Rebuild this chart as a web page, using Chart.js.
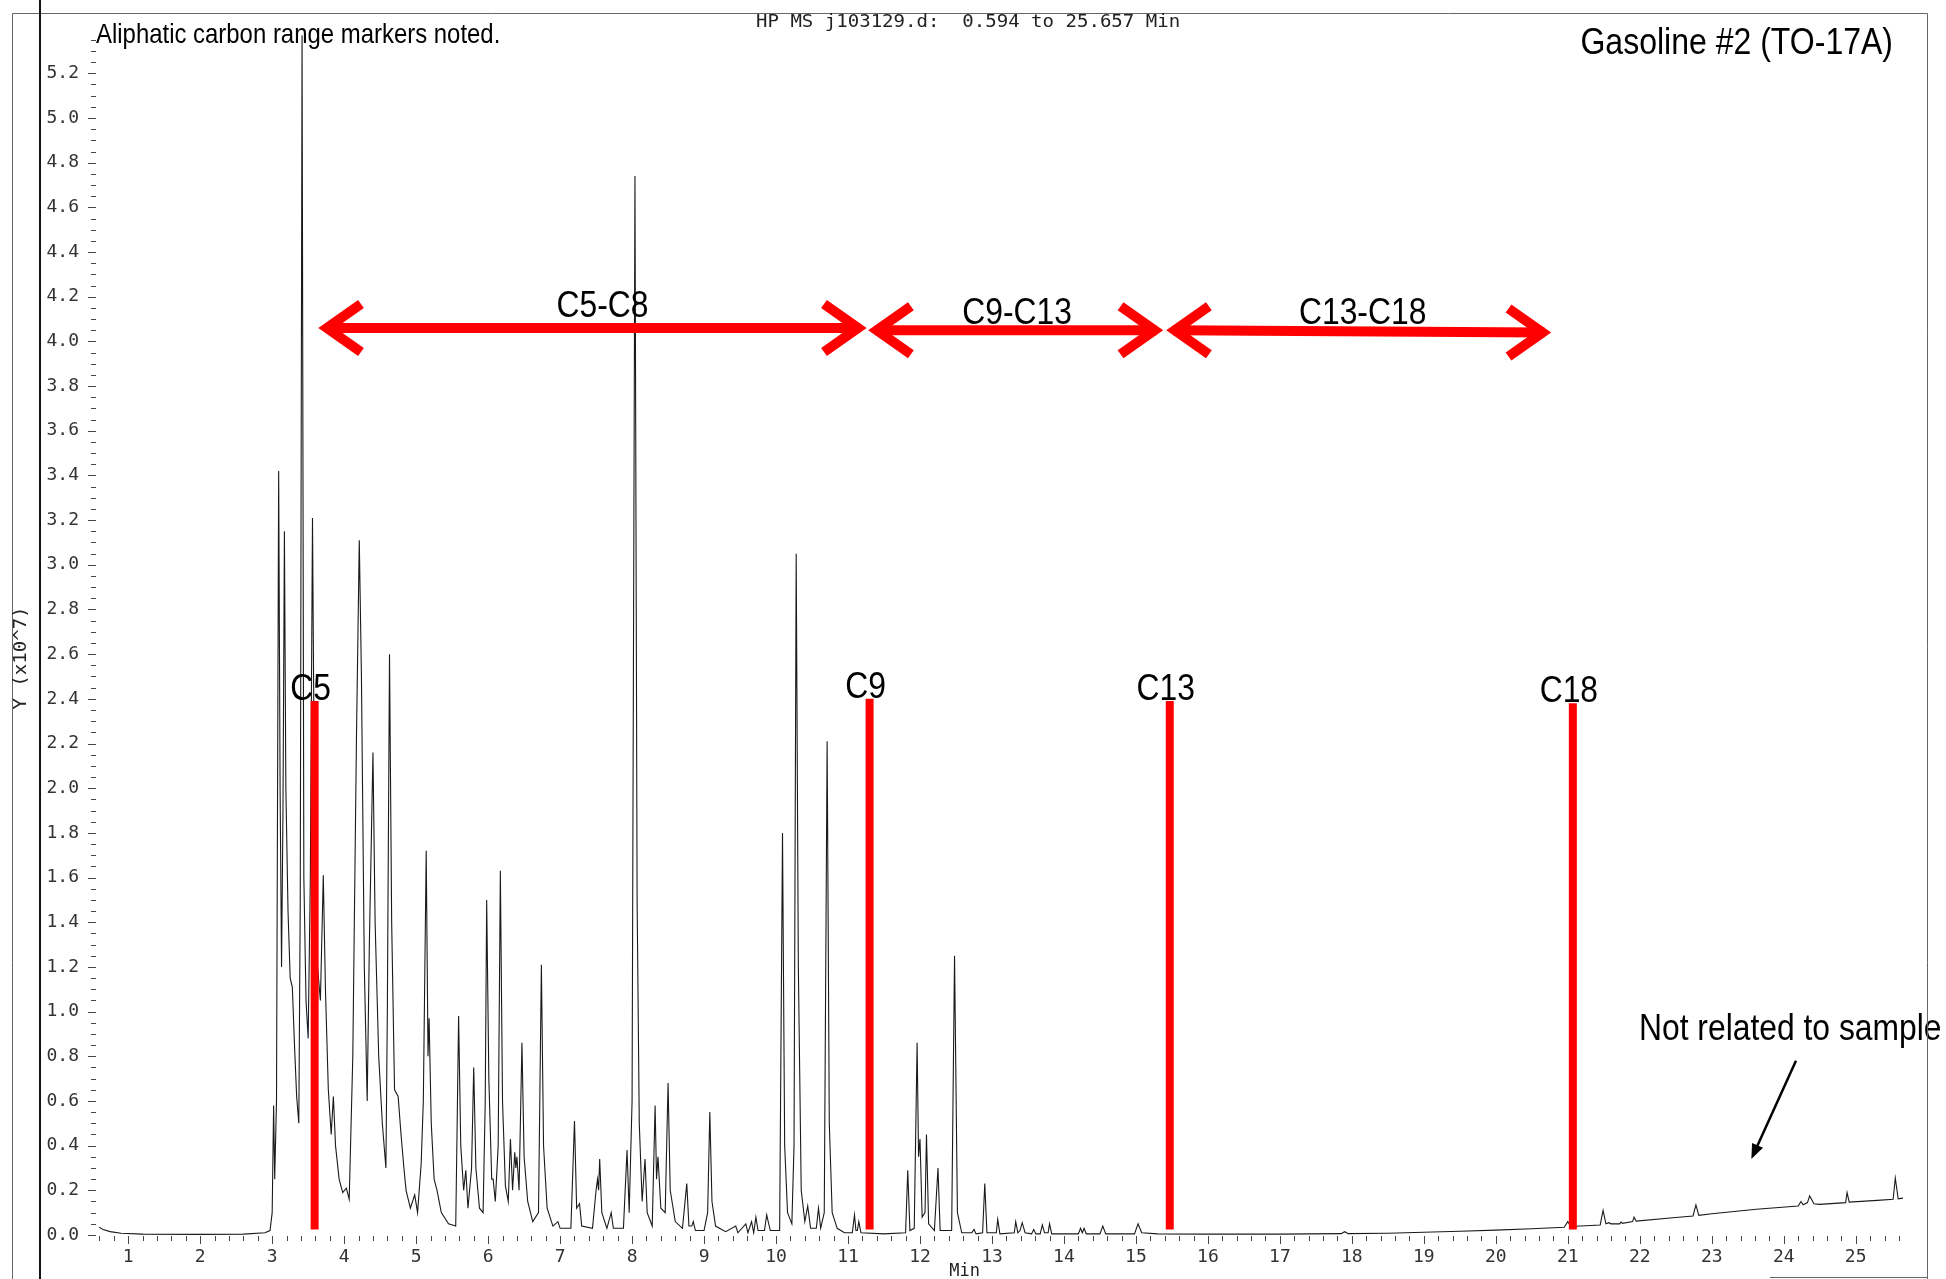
<!DOCTYPE html>
<html>
<head>
<meta charset="utf-8">
<title>Gasoline #2 (TO-17A)</title>
<script src="https://cdn.jsdelivr.net/npm/chart.js@4.4.1/dist/chart.umd.min.js"></script>
<style>
  html, body { margin: 0; padding: 0; background: #fff; }
  #chart { display: block; }
</style>
</head>
<body>
<canvas id="chart" width="1946" height="1279"></canvas>
<script>
// chromatogram trace (min, x10^7)
const retentionTime = [
  0.594, 0.65, 0.75, 0.90, 1.20, 2.00, 2.60, 2.90, 2.97, 3.00, 3.02, 3.035, 3.06, 3.09, 3.11, 3.13,
  3.15, 3.17, 3.19, 3.22, 3.25, 3.28, 3.31, 3.34, 3.37, 3.39, 3.415, 3.44, 3.47, 3.50, 3.53, 3.56,
  3.59, 3.63, 3.67, 3.71, 3.74, 3.78, 3.82, 3.85, 3.88, 3.93, 3.98, 4.03, 4.07, 4.12, 4.17, 4.21,
  4.24, 4.28, 4.32, 4.35, 4.40, 4.43, 4.48, 4.53, 4.58, 4.60, 4.63, 4.66, 4.70, 4.75, 4.79, 4.83,
  4.86, 4.92, 4.98, 5.02, 5.07, 5.10, 5.14, 5.165, 5.18, 5.21, 5.25, 5.29, 5.35, 5.45, 5.55, 5.57,
  5.59, 5.62, 5.66, 5.69, 5.72, 5.77, 5.80, 5.83, 5.88, 5.93, 5.96, 5.98, 6.01, 6.05, 6.07, 6.10,
  6.14, 6.17, 6.20, 6.24, 6.28, 6.31, 6.34, 6.37, 6.385, 6.40, 6.43, 6.47, 6.50, 6.55, 6.62, 6.70,
  6.74, 6.77, 6.82, 6.90, 6.97, 7.00, 7.15, 7.20, 7.23, 7.27, 7.30, 7.45, 7.50, 7.52, 7.535, 7.55,
  7.58, 7.65, 7.71, 7.74, 7.88, 7.93, 7.96, 8.00, 8.04, 8.07, 8.10, 8.14, 8.18, 8.21, 8.28, 8.32,
  8.34, 8.36, 8.40, 8.46, 8.50, 8.53, 8.60, 8.70, 8.76, 8.79, 8.83, 8.85, 8.88, 9.00, 9.05, 9.08,
  9.11, 9.16, 9.30, 9.44, 9.47, 9.58, 9.61, 9.66, 9.69, 9.72, 9.75, 9.84, 9.87, 9.92, 10.05, 10.09,
  10.12, 10.16, 10.22, 10.25, 10.28, 10.31, 10.35, 10.40, 10.44, 10.48, 10.56, 10.59, 10.62, 10.67, 10.71, 10.74,
  10.78, 10.85, 10.95, 11.06, 11.09, 11.11, 11.13, 11.15, 11.18, 11.50, 11.80, 11.83, 11.86, 11.92, 11.96, 11.98,
  12.00, 12.03, 12.07, 12.09, 12.12, 12.20, 12.25, 12.28, 12.44, 12.48, 12.52, 12.58, 12.72, 12.75, 12.78, 12.87,
  12.90, 12.93, 13.06, 13.08, 13.11, 13.31, 13.33, 13.36, 13.39, 13.42, 13.46, 13.55, 13.58, 13.61, 13.67, 13.70,
  13.73, 13.78, 13.80, 13.83, 14.20, 14.23, 14.255, 14.28, 14.31, 14.50, 14.54, 14.58, 14.98, 15.03, 15.08, 15.30,
  16.00, 17.00, 17.85, 17.90, 17.95, 18.50, 19.00, 19.50, 20.00, 20.50, 20.95, 21.00, 21.04, 21.45, 21.49, 21.53,
  21.57, 21.60, 21.72, 21.74, 21.76, 21.90, 21.92, 21.95, 22.50, 22.74, 22.78, 22.82, 23.00, 23.62, 24.20, 24.24,
  24.27, 24.33, 24.36, 24.42, 24.50, 24.86, 24.88, 24.91, 25.30, 25.52, 25.55, 25.59, 25.657
];
const abundance = [
  0.035, 0.025, 0.015, 0.008, 0.004, 0.003, 0.004, 0.010, 0.020, 0.100, 0.580, 0.250, 0.600, 3.420, 2.000, 1.200,
  1.900, 3.150, 2.000, 1.450, 1.150, 1.110, 0.850, 0.620, 0.500, 1.500, 5.370, 1.600, 1.050, 0.880, 1.600, 3.210,
  1.800, 1.200, 1.050, 1.610, 1.100, 0.650, 0.450, 0.620, 0.400, 0.250, 0.190, 0.210, 0.160, 0.800, 2.200, 3.110,
  2.500, 1.200, 0.600, 1.300, 2.160, 1.400, 0.800, 0.500, 0.300, 1.000, 2.600, 1.400, 0.650, 0.620, 0.450, 0.300,
  0.200, 0.120, 0.180, 0.100, 0.320, 0.600, 1.720, 0.800, 0.970, 0.500, 0.250, 0.200, 0.100, 0.050, 0.040, 0.500,
  0.980, 0.400, 0.200, 0.290, 0.120, 0.300, 0.750, 0.300, 0.120, 0.100, 0.600, 1.500, 0.700, 0.250, 0.250, 0.150,
  0.400, 1.630, 0.600, 0.220, 0.150, 0.430, 0.200, 0.370, 0.300, 0.350, 0.200, 0.860, 0.350, 0.150, 0.060, 0.100,
  1.210, 0.400, 0.120, 0.040, 0.060, 0.030, 0.030, 0.510, 0.120, 0.140, 0.040, 0.030, 0.200, 0.250, 0.200, 0.340,
  0.100, 0.030, 0.100, 0.030, 0.030, 0.380, 0.100, 0.600, 4.740, 1.500, 0.500, 0.150, 0.340, 0.100, 0.040, 0.580,
  0.250, 0.350, 0.120, 0.100, 0.680, 0.200, 0.060, 0.030, 0.230, 0.040, 0.040, 0.060, 0.020, 0.020, 0.100, 0.550,
  0.150, 0.040, 0.015, 0.040, 0.010, 0.050, 0.010, 0.060, 0.010, 0.080, 0.020, 0.020, 0.090, 0.020, 0.020, 1.800,
  0.400, 0.100, 0.050, 0.400, 3.050, 1.200, 0.200, 0.060, 0.130, 0.030, 0.030, 0.120, 0.030, 0.100, 2.210, 0.500,
  0.100, 0.030, 0.010, 0.010, 0.090, 0.020, 0.020, 0.060, 0.010, 0.005, 0.010, 0.290, 0.020, 0.030, 0.860, 0.350,
  0.430, 0.080, 0.100, 0.450, 0.050, 0.020, 0.300, 0.020, 0.020, 1.250, 0.100, 0.010, 0.010, 0.025, 0.005, 0.010,
  0.230, 0.010, 0.010, 0.070, 0.005, 0.010, 0.060, 0.010, 0.020, 0.055, 0.010, 0.005, 0.025, 0.005, 0.005, 0.045,
  0.010, 0.010, 0.050, 0.005, 0.005, 0.030, 0.010, 0.030, 0.005, 0.005, 0.040, 0.005, 0.005, 0.050, 0.010, 0.005,
  0.004, 0.004, 0.006, 0.015, 0.006, 0.008, 0.012, 0.017, 0.022, 0.028, 0.035, 0.060, 0.038, 0.045, 0.110, 0.050,
  0.055, 0.050, 0.050, 0.058, 0.052, 0.060, 0.080, 0.062, 0.078, 0.085, 0.135, 0.088, 0.095, 0.115, 0.130, 0.150,
  0.135, 0.145, 0.175, 0.140, 0.137, 0.145, 0.190, 0.147, 0.155, 0.160, 0.255, 0.162, 0.165
];

// carbon number markers (red bars)
const markerLabels = ['C5', 'C9', 'C13', 'C18'];
const markerTimes = [3.59, 11.30, 15.47, 21.07];
const markerTops = [2.39, 2.40, 2.39, 2.38];
const markerBottom = 0.025;

// carbon range arrows
const rangeLabels = ['C5-C8', 'C9-C13', 'C13-C18'];
const rangeStart = [3.65, 11.29, 15.43];
const rangeEnd = [11.25, 15.37, 20.76];
const rangeLevelStart = [4.06, 4.05, 4.05];
const rangeLevelEnd = [4.06, 4.05, 4.04];
const rangeLabelTime = [7.59, 13.35, 18.15];
const rangeLabelLevel = [4.155, 4.125, 4.125];

// "Not related to sample" pointer (min, x10^7)
const noteText = 'Not related to sample';
const noteArrowFrom = [24.17, 0.78];
const noteArrowTo = [23.55, 0.34];

// axis
const timeMin = 0.594;
const timeMax = 25.657;
const yTickLabels = ['0.0', '0.2', '0.4', '0.6', '0.8', '1.0', '1.2', '1.4', '1.6', '1.8', '2.0', '2.2', '2.4',
  '2.6', '2.8', '3.0', '3.2', '3.4', '3.6', '3.8', '4.0', '4.2', '4.4', '4.6', '4.8', '5.0', '5.2'];
const xTickLabels = ['1', '2', '3', '4', '5', '6', '7', '8', '9', '10', '11', '12', '13', '14', '15', '16', '17',
  '18', '19', '20', '21', '22', '23', '24', '25'];

const RED = '#ff0000';
const INK = '#1a1a1a';
const SANS = '"Liberation Sans", Arial, sans-serif';
const MONO = '"DejaVu Sans Mono", monospace';

function narrowText(ctx, text, x, y, size, align, squeeze) {
    ctx.save();
    ctx.font = size + 'px ' + SANS;
    ctx.fillStyle = '#000';
    ctx.textAlign = align;
    ctx.textBaseline = 'middle';
    ctx.translate(x, y);
    ctx.scale(squeeze, 1);
    ctx.fillText(text, 0, 0);
    ctx.restore();
}

function chevron(ctx, tipX, tipY, dir) {
    // open arrow head, dir = 1 points right, -1 points left
    const back = 34, half = 24, inset = 8;
    const tx = tipX - dir * inset;
    ctx.beginPath();
    ctx.moveTo(tx - dir * back, tipY - half);
    ctx.lineTo(tx, tipY);
    ctx.lineTo(tx - dir * back, tipY + half);
    ctx.stroke();
}

const decorations = {
    id: 'decorations',
    afterDatasetsDraw(chart) {
        const ctx = chart.ctx;
        const x = chart.scales.x;
        const y = chart.scales.y;
        const area = chart.chartArea;

        // tick marks, major and minor
        ctx.save();
        ctx.strokeStyle = '#444';
        ctx.lineWidth = 1;
        ctx.beginPath();
        for (let k = Math.ceil(timeMin / 0.2); k * 0.2 <= timeMax; k++) {
            const px = Math.round(x.getPixelForValue(k * 0.2)) + 0.5;
            const len = k % 5 === 0 ? 8 : 5;
            ctx.moveTo(px, area.bottom + 1);
            ctx.lineTo(px, area.bottom + 1 + len);
        }
        for (let k = 0; k <= 107; k++) {
            const py = Math.round(y.getPixelForValue(k * 0.05)) + 0.5;
            const major = k % 4 === 0;
            ctx.moveTo(area.left - (major ? 11 : 8), py);
            ctx.lineTo(area.left - 3, py);
        }
        ctx.stroke();
        ctx.restore();

        // red carbon markers
        ctx.save();
        ctx.strokeStyle = RED;
        ctx.lineWidth = 8;
        ctx.lineCap = 'butt';
        markerTimes.forEach((t, i) => {
            const px = x.getPixelForValue(t);
            ctx.beginPath();
            ctx.moveTo(px, y.getPixelForValue(markerTops[i]));
            ctx.lineTo(px, y.getPixelForValue(markerBottom));
            ctx.stroke();
            narrowText(ctx, markerLabels[i], px - 4, y.getPixelForValue(markerTops[i]) - 11, 36.6, 'center', 0.87);
        });

        // range arrows
        ctx.lineWidth = 10;
        ctx.lineJoin = 'miter';
        rangeStart.forEach((t0, i) => {
            const x0 = x.getPixelForValue(t0);
            const x1 = x.getPixelForValue(rangeEnd[i]);
            const y0 = y.getPixelForValue(rangeLevelStart[i]);
            const y1 = y.getPixelForValue(rangeLevelEnd[i]);
            ctx.beginPath();
            ctx.moveTo(x0 + 6, y0);
            ctx.lineTo(x1 - 6, y1);
            ctx.stroke();
            chevron(ctx, x0, y0, -1);
            chevron(ctx, x1, y1, 1);
            narrowText(ctx, rangeLabels[i], x.getPixelForValue(rangeLabelTime[i]),
                y.getPixelForValue(rangeLabelLevel[i]), 36.6, 'center', 0.87);
        });
        ctx.restore();

        // pointer to the rising baseline
        ctx.save();
        const ax0 = x.getPixelForValue(noteArrowFrom[0]), ay0 = y.getPixelForValue(noteArrowFrom[1]);
        const ax1 = x.getPixelForValue(noteArrowTo[0]), ay1 = y.getPixelForValue(noteArrowTo[1]);
        const ang = Math.atan2(ay1 - ay0, ax1 - ax0);
        ctx.strokeStyle = '#000';
        ctx.fillStyle = '#000';
        ctx.lineWidth = 2.5;
        ctx.beginPath();
        ctx.moveTo(ax0, ay0);
        ctx.lineTo(ax1 - 10 * Math.cos(ang), ay1 - 10 * Math.sin(ang));
        ctx.stroke();
        ctx.beginPath();
        ctx.moveTo(ax1, ay1);
        ctx.lineTo(ax1 - 15 * Math.cos(ang) + 6 * Math.sin(ang), ay1 - 15 * Math.sin(ang) - 6 * Math.cos(ang));
        ctx.lineTo(ax1 - 15 * Math.cos(ang) - 6 * Math.sin(ang), ay1 - 15 * Math.sin(ang) + 6 * Math.cos(ang));
        ctx.closePath();
        ctx.fill();
        ctx.restore();
        narrowText(ctx, noteText, 1639, 1030, 36.6, 'left', 0.87);
    },
    afterDraw(chart) {
        const ctx = chart.ctx;
        const x = chart.scales.x;

        // scanned page frame
        ctx.save();
        ctx.strokeStyle = '#666';
        ctx.lineWidth = 1;
        ctx.beginPath();
        ctx.moveTo(12.5, 1279);
        ctx.lineTo(12.5, 13.5);
        ctx.lineTo(1927.5, 13.5);
        ctx.lineTo(1927.5, 1279);
        ctx.moveTo(1770, 1277.5);
        ctx.lineTo(1927, 1277.5);
        ctx.stroke();
        ctx.strokeStyle = '#111';
        ctx.lineWidth = 2;
        ctx.beginPath();
        ctx.moveTo(40, 0);
        ctx.lineTo(40, 1279);
        ctx.stroke();
        ctx.restore();

        // plotter header and axis titles
        ctx.save();
        ctx.fillStyle = '#222';
        ctx.font = '17px ' + MONO;
        ctx.textBaseline = 'middle';
        ctx.translate(756, 23);
        ctx.scale(1.12, 1);
        ctx.fillText('HP MS j103129.d:  0.594 to 25.657 Min', 0, 0);
        ctx.restore();

        ctx.save();
        ctx.fillStyle = '#222';
        ctx.font = '17px ' + MONO;
        ctx.textAlign = 'center';
        ctx.textBaseline = 'middle';
        ctx.fillText('Min', x.getPixelForValue(12.62), 1272);
        ctx.translate(22, 658);
        ctx.rotate(-Math.PI / 2);
        ctx.scale(1.12, 1);
        ctx.fillText('Y (x10^7)', 0, 0);
        ctx.restore();

        narrowText(ctx, 'Aliphatic carbon range markers noted.', 96, 35, 27.5, 'left', 0.87);
        narrowText(ctx, 'Gasoline #2 (TO-17A)', 1893, 44, 36.8, 'right', 0.87);
    }
};

const tracePoints = retentionTime.map((t, i) => ({ x: t, y: abundance[i] }));

new Chart(document.getElementById('chart'), {
    type: 'line',
    data: {
        datasets: [{
            label: 'TIC',
            data: tracePoints,
            borderColor: INK,
            borderWidth: 1.1,
            pointRadius: 0,
            tension: 0,
            fill: false
        }]
    },
    options: {
        responsive: false,
        animation: false,
        devicePixelRatio: 1,
        layout: { padding: { left: 0, top: 13, right: 43, bottom: 0 } },
        plugins: {
            legend: { display: false },
            tooltip: { enabled: false }
        },
        scales: {
            x: {
                type: 'linear',
                min: timeMin,
                max: timeMax,
                grid: { display: false },
                border: { display: false },
                afterFit: scale => {
                    scale.height = 44;
                    scale.paddingLeft = 0;
                    scale.paddingRight = 0;
                },
                ticks: {
                    stepSize: 1,
                    includeBounds: false,
                    autoSkip: false,
                    maxRotation: 0,
                    padding: 4,
                    color: '#333',
                    font: { family: MONO, size: 18 },
                    callback: value => xTickLabels[Math.round(value) - 1] ?? ''
                }
            },
            y: {
                min: 0,
                max: 5.47,
                grid: { display: false },
                border: { display: false },
                afterFit: scale => {
                    scale.width = 99;
                    scale.paddingTop = 0;
                    scale.paddingBottom = 0;
                },
                ticks: {
                    stepSize: 0.2,
                    includeBounds: false,
                    autoSkip: false,
                    padding: 12,
                    color: '#333',
                    font: { family: MONO, size: 18 },
                    callback: value => yTickLabels[Math.round(value / 0.2)] ?? ''
                }
            }
        }
    },
    plugins: [decorations]
});
</script>
</body>
</html>
